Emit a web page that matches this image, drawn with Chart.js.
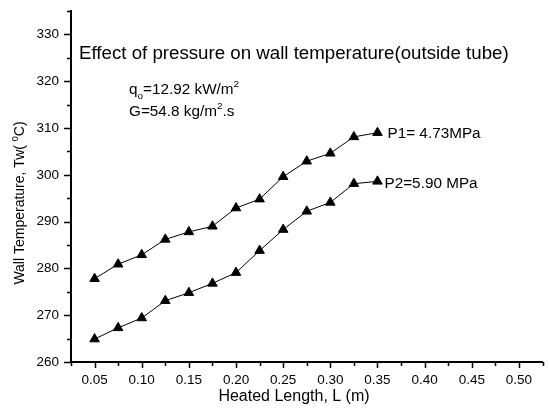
<!DOCTYPE html>
<html>
<head>
<meta charset="utf-8">
<script src="https://cdn.jsdelivr.net/npm/chart.js@4/dist/chart.umd.min.js"></script>
<style>
  html, body { margin: 0; padding: 0; background: #fff; }
  #wrap { width: 549px; height: 416px; }
</style>
</head>
<body>
<div id="wrap"><canvas id="chart"></canvas></div>
<script>
const FONT = '"Liberation Sans", Arial, sans-serif';

const lengths = [0.05, 0.075, 0.10, 0.125, 0.15, 0.175, 0.20, 0.225, 0.25, 0.275, 0.30, 0.325, 0.35];
const tempP1 = [277.8, 280.9, 282.9, 286.2, 287.8, 289.0, 292.9, 294.8, 299.6, 302.9, 304.6, 308.1, 309.0];
const tempP2 = [264.9, 267.3, 269.4, 273.1, 274.8, 276.8, 279.1, 283.8, 288.3, 292.2, 294.1, 298.1, 298.6];
const seriesNames = ['P1= 4.73MPa', 'P2=5.90 MPa'];

const toPoints = (ys) => lengths.map((x, i) => ({ x: x, y: ys[i] }));

// text with sub/superscript pieces: [text, 0 | 1 (sup) | -1 (sub)]
function richWidth(ctx, parts, size) {
  let w = 0;
  parts.forEach(([t, s]) => {
    ctx.font = (s ? size * 0.65 : size) + 'px ' + FONT;
    w += ctx.measureText(t).width;
  });
  return w;
}
function drawRich(ctx, x, y, parts, size) {
  parts.forEach(([t, s]) => {
    ctx.font = (s ? size * 0.65 : size) + 'px ' + FONT;
    const dy = s === 1 ? -size * 0.45 : s === -1 ? size * 0.3 : 0;
    ctx.fillText(t, x, y + dy);
    x += ctx.measureText(t).width;
  });
}

const decorations = {
  id: 'decorations',
  afterDraw(chart) {
    const ctx = chart.ctx;
    const xs = chart.scales.x, ys = chart.scales.y;
    ctx.save();
    ctx.strokeStyle = '#000';
    ctx.lineWidth = 1.5;

    // outward tick marks, long for labelled ticks
    ctx.beginPath();
    xs.ticks.forEach(t => {
      const px = Math.round(xs.getPixelForValue(t.value)) + 0.5;
      const len = t.label ? 6 : 4;
      ctx.moveTo(px, xs.top);
      ctx.lineTo(px, xs.top + len);
    });
    ys.ticks.forEach(t => {
      const py = Math.round(ys.getPixelForValue(t.value)) + 0.5;
      const len = t.label ? 7 : 4;
      ctx.moveTo(ys.right, py);
      ctx.lineTo(ys.right - len, py);
    });
    ctx.stroke();

    ctx.fillStyle = '#000';
    ctx.textBaseline = 'alphabetic';
    ctx.textAlign = 'left';

    ctx.font = '18.7px ' + FONT;
    ctx.fillText('Effect of pressure on wall temperature(outside tube)', 79, 59);

    drawRich(ctx, 129, 94, [['q', 0], ['o', -1], ['=12.92 kW/m', 0], ['2', 1]], 15.3);
    drawRich(ctx, 129, 116, [['G=54.8 kg/m', 0], ['2', 1], ['.s', 0]], 15.3);

    // series names next to the last point of each curve
    const last = lengths.length - 1;
    ctx.font = '15.3px ' + FONT;
    ctx.fillText(seriesNames[0], xs.getPixelForValue(lengths[last]) + 10, ys.getPixelForValue(tempP1[last]) + 5);
    ctx.fillText(seriesNames[1], xs.getPixelForValue(lengths[last]) + 7, ys.getPixelForValue(tempP2[last]) + 7);

    // axis titles
    ctx.font = '16px ' + FONT;
    ctx.textAlign = 'center';
    ctx.fillText('Heated Length, L (m)', 294, 401);

    const yParts = [['Wall Temperature, Tw( ', 0], ['0', 1], ['C)', 0]];
    ctx.translate(24, 203);
    ctx.rotate(-Math.PI / 2);
    ctx.textAlign = 'left';
    drawRich(ctx, -richWidth(ctx, yParts, 14) / 2, 0, yParts, 14);
    ctx.restore();
  }
};

const seriesStyle = {
  borderColor: '#000',
  borderWidth: 1,
  backgroundColor: '#000',
  pointStyle: 'triangle',
  pointRadius: 5.5,
  pointBackgroundColor: '#000',
  pointBorderColor: '#000',
  pointBorderWidth: 1,
  tension: 0,
};

new Chart(document.getElementById('chart'), {
  type: 'line',
  data: {
    datasets: [
      { label: seriesNames[0], data: toPoints(tempP1), ...seriesStyle },
      { label: seriesNames[1], data: toPoints(tempP2), ...seriesStyle },
    ],
  },
  options: {
    responsive: true,
    maintainAspectRatio: false,
    animation: false,
    layout: { padding: { top: 11, right: 2, left: 0, bottom: 0 } },
    plugins: {
      legend: { display: false },
      tooltip: { enabled: false },
    },
    scales: {
      x: {
        type: 'linear',
        min: 0.025,
        max: 0.525,
        afterFit: (s) => { s.height = 54; s.paddingLeft = 0; s.paddingRight = 0; },
        grid: { display: false, drawTicks: false },
        border: { display: true, color: '#000', width: 2 },
        ticks: {
          stepSize: 0.025,
          padding: 10,
          maxRotation: 0,
          autoSkip: false,
          color: '#000',
          font: { family: FONT, size: 13.5 },
          callback: (v) => Math.round(v * 1000) % 50 === 0 ? v.toFixed(2) : '',
        },
      },
      y: {
        min: 260,
        max: 335,
        afterFit: (s) => { s.width = 71; s.paddingTop = 0; s.paddingBottom = 0; },
        grid: { display: false, drawTicks: false },
        border: { display: true, color: '#000', width: 2 },
        ticks: {
          stepSize: 5,
          padding: 12,
          autoSkip: false,
          color: '#000',
          font: { family: FONT, size: 13.5 },
          callback: (v) => v % 10 === 0 ? String(v) : '',
        },
      },
    },
  },
  plugins: [decorations],
});
</script>
</body>
</html>
